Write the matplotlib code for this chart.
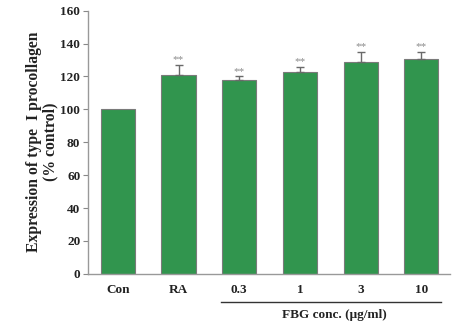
import matplotlib
matplotlib.use("Agg")
import matplotlib.pyplot as plt
import numpy as np

categories = ["Con", "RA", "0.3", "1", "3", "10"]
values = [100, 121, 118, 123, 129, 130.5]
errors = [0, 6, 2, 3, 6, 4.5]
marks = ["", "**", "**", "**", "**", "**"]

plt.rcParams["font.family"] = ["Liberation Serif", "DejaVu Serif"]
plt.rcParams["font.weight"] = "bold"

fig = plt.figure(figsize=(4.6, 3.24), dpi=100)
ax = fig.add_axes([0.1913, 0.155, 0.787, 0.812])

x = np.arange(len(categories))
ax.bar(x, values, width=0.56, color="#31954E", edgecolor="#7a7a7a", linewidth=0.8, zorder=2)
ax.errorbar(x[1:], values[1:], yerr=[np.zeros(len(x) - 1), errors[1:]], fmt="none",
            ecolor="#6a6a6a", elinewidth=1.0, capsize=3, capthick=1.0, zorder=3)
for xi, v, e, m in zip(x, values, errors, marks):
    if m:
        ax.text(xi, v + e + 0.5, m, ha="center", va="bottom", fontsize=8,
                color="#8a8a8a", fontweight="normal")

ax.set_xlim(-0.49, 5.47)
ax.set_ylim(0, 160)
ax.set_yticks(np.arange(0, 161, 20))
ax.set_xticks(x)
ax.set_xticklabels(categories, fontsize=9.5, fontweight="bold", color="#222222")
ax.tick_params(axis="x", length=0, pad=7)
ax.tick_params(axis="y", length=3.5, width=0.8, color="#888888", labelsize=9.5,
               labelcolor="#222222", pad=2)
for lab in ax.get_yticklabels():
    lab.set_fontweight("bold")
for s in ["top", "right"]:
    ax.spines[s].set_visible(False)
for s in ["left", "bottom"]:
    ax.spines[s].set_color("#999999")
    ax.spines[s].set_linewidth(1.0)

ax.set_ylabel("Expression of type  I procollagen\n(% control)", fontsize=11.3,
              fontweight="bold", color="#222222", labelpad=1.5, linespacing=1.0)

# group bracket under the FBG concentrations
fig.add_artist(plt.Line2D([221 / 460, 441 / 460], [1 - 301.5 / 324, 1 - 301.5 / 324],
                          color="#333333", linewidth=1.0))
fig.text(334 / 460, 1 - 315 / 324, "FBG conc. (\u03bcg/ml)", ha="center", va="center",
         fontsize=9.5, fontweight="bold", color="#222222")

fig.savefig("out.png", dpi=100)
